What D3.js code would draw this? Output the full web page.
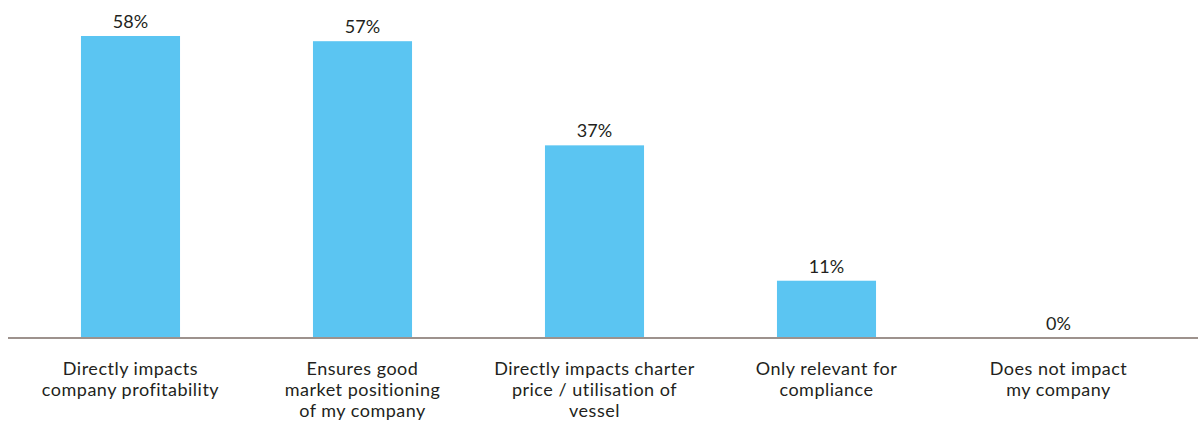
<!DOCTYPE html>
<html lang="en">
  <head>
    <meta charset="UTF-8" />
    <title>Impact chart</title>
    <script src="https://d3js.org/d3.v7.min.js"></script>
    <style>
      body {
        margin: 0;
        background: #fff;
        font-family: "Lato", "Noto Sans", sans-serif;
      }
      .value,
      .cat {
        fill: #231f20;
        font-size: 18px;
      }
      .cat {
        letter-spacing: 0.5px;
      }
    </style>
  </head>
  <body>
    <svg id="chart" width="1198" height="424"></svg>

    <script>
      const categories = [
        ["Directly impacts", "company profitability"],
        ["Ensures good", "market positioning", "of my company"],
        ["Directly impacts charter", "price / utilisation of", "vessel"],
        ["Only relevant for", "compliance"],
        ["Does not impact", "my company"],
      ];
      const values = [58, 57, 37, 11, 0];

      const width = 1198;
      const height = 424;
      const baseY = 338;

      const svg = d3.select("#chart");

      const x = d3
        .scaleBand()
        .domain(d3.range(values.length))
        .range([14.5, 1174.5])
        .paddingInner(0.573)
        .paddingOuter(0.2865);

      const y = d3.scaleLinear().domain([0, 58]).range([baseY, 36]);

      svg
        .selectAll(".bar")
        .data(values)
        .enter()
        .append("rect")
        .attr("class", "bar")
        .attr("x", (d, i) => x(i))
        .attr("y", (d) => y(d))
        .attr("width", x.bandwidth())
        .attr("height", (d) => baseY - y(d))
        .attr("fill", "#5bc5f2");

      svg
        .append("line")
        .attr("x1", 8)
        .attr("x2", width)
        .attr("y1", baseY)
        .attr("y2", baseY)
        .attr("stroke", "#9d928d")
        .attr("stroke-width", 2);

      svg
        .selectAll(".value")
        .data(values)
        .enter()
        .append("text")
        .attr("class", "value")
        .attr("x", (d, i) => x(i) + x.bandwidth() / 2)
        .attr("y", (d) => y(d) - 8)
        .attr("text-anchor", "middle")
        .text((d) => d + "%");

      const cat = svg
        .selectAll(".cat")
        .data(categories)
        .enter()
        .append("text")
        .attr("class", "cat")
        .attr("text-anchor", "middle");

      cat
        .selectAll("tspan")
        .data((d, i) => d.map((line) => ({ line, i })))
        .enter()
        .append("tspan")
        .attr("x", (d) => x(d.i) + x.bandwidth() / 2)
        .attr("y", (d, j) => 375 + j * 21)
        .text((d) => d.line);
    </script>
  </body>
</html>
